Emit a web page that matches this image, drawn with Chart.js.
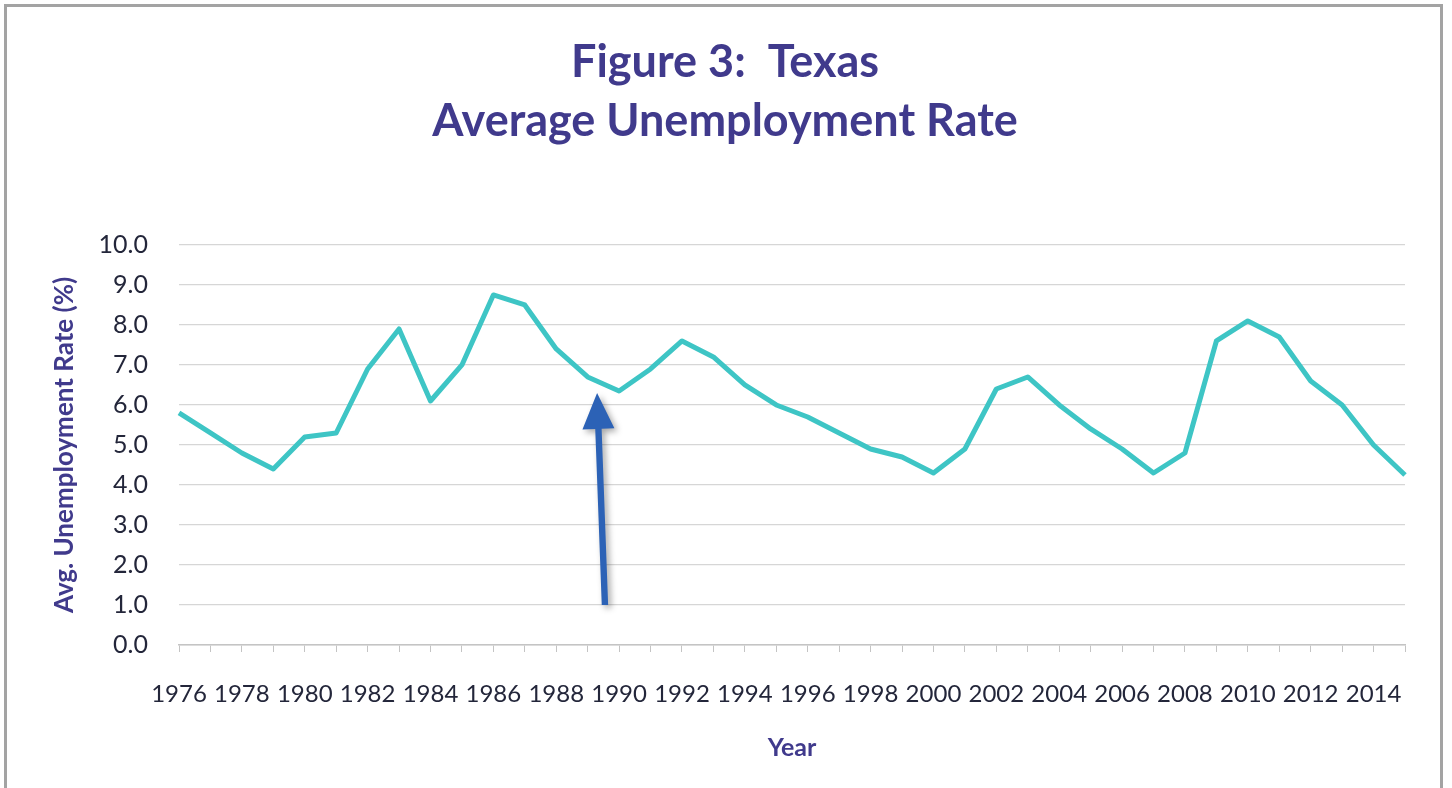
<!DOCTYPE html>
<html>
<head>
<meta charset="utf-8">
<title>Figure 3: Texas Average Unemployment Rate</title>
<script src="https://cdn.jsdelivr.net/npm/chart.js@4.4.1/dist/chart.umd.min.js"></script>
<style>
    html, body { margin: 0; padding: 0; background: #fff; overflow: hidden; }
    #wrap { position: relative; width: 1452px; height: 788px; }
    #frame { position: absolute; left: 4px; top: 4px; width: 1433px; height: 800px; border: 3px solid #a3a3a3; pointer-events: none; }
    canvas { position: absolute; left: 0; top: 0; }
</style>
</head>
<body>
<div id="wrap">
    <canvas id="chart" width="1452" height="788"></canvas>
    <div id="frame"></div>
</div>
<script>
"use strict";

const years = [1976, 1977, 1978, 1979, 1980, 1981, 1982, 1983, 1984, 1985,
               1986, 1987, 1988, 1989, 1990, 1991, 1992, 1993, 1994, 1995,
               1996, 1997, 1998, 1999, 2000, 2001, 2002, 2003, 2004, 2005,
               2006, 2007, 2008, 2009, 2010, 2011, 2012, 2013, 2014, 2015];
const rates = [5.8, 5.3, 4.8, 4.4, 5.2, 5.3, 6.9, 7.9, 6.1, 7.0,
               8.75, 8.5, 7.4, 6.7, 6.35, 6.9, 7.6, 7.2, 6.5, 6.0,
               5.7, 5.3, 4.9, 4.7, 4.3, 4.9, 6.4, 6.7, 6.0, 5.4,
               4.9, 4.3, 4.8, 7.6, 8.1, 7.7, 6.6, 6.0, 5.0, 4.25];
const yMin = 0;
const yMax = 10;
const yStep = 1;

// arrow annotation in data units (x = category index, y = rate)
const arrowStart = [13.55, 1.0];
const arrowTip = [13.3, 6.3];

const titleColor = "#403a8c";
const tickColor = "#23263a";

const arrowPlugin = {
    id: "arrow",
    afterDatasetsDraw(chart) {
        const ctx = chart.ctx;
        const xs = chart.scales.x, ys = chart.scales.y;
        const x0 = xs.getPixelForValue(arrowStart[0]), y0 = ys.getPixelForValue(arrowStart[1]);
        const x1 = xs.getPixelForValue(arrowTip[0]), y1 = ys.getPixelForValue(arrowTip[1]);
        const len = Math.hypot(x1 - x0, y1 - y0);
        const ux = (x1 - x0) / len, uy = (y1 - y0) / len;
        const px = -uy, py = ux;
        const headLen = 36, headHalf = 16, shaftHalf = 3.2;
        const bx = x1 - ux * headLen, by = y1 - uy * headLen;
        ctx.save();
        ctx.shadowColor = "rgba(0,0,0,0.35)";
        ctx.shadowBlur = 6;
        ctx.shadowOffsetX = 3;
        ctx.shadowOffsetY = 3;
        ctx.fillStyle = "#2c62b6";
        ctx.beginPath();
        ctx.moveTo(x0 + px * shaftHalf, y0 + py * shaftHalf);
        ctx.lineTo(bx + px * shaftHalf, by + py * shaftHalf);
        ctx.lineTo(bx + px * headHalf, by + py * headHalf);
        ctx.lineTo(x1, y1);
        ctx.lineTo(bx - px * headHalf, by - py * headHalf);
        ctx.lineTo(bx - px * shaftHalf, by - py * shaftHalf);
        ctx.lineTo(x0 - px * shaftHalf, y0 - py * shaftHalf);
        ctx.closePath();
        ctx.fill();
        ctx.restore();
    }
};

new Chart(document.getElementById("chart").getContext("2d"), {
    type: "line",
    data: {
        labels: years.map(String),
        datasets: [{
            data: rates,
            borderColor: "#3ec5c5",
            borderWidth: 5,
            borderJoinStyle: "round",
            tension: 0,
            pointRadius: 0,
            fill: false
        }]
    },
    options: {
        responsive: false,
        animation: false,
        devicePixelRatio: 1,
        layout: { padding: { left: 45, right: 47, top: 0, bottom: 0 } },
        plugins: {
            legend: { display: false },
            tooltip: { enabled: false },
            title: {
                display: true,
                text: ["Figure 3:  Texas", "Average Unemployment Rate"],
                color: titleColor,
                font: { family: "Lato", size: 45, weight: "bold", lineHeight: 1.333 },
                padding: { top: 32, bottom: 93 }
            }
        },
        scales: {
            x: {
                offset: false,
                afterFit: scale => { scale.height = 143; },
                grid: { drawOnChartArea: false, drawTicks: true, tickLength: 7, color: "#c4c4c4" },
                border: { color: "#c4c4c4", width: 1.5 },
                ticks: {
                    autoSkip: false,
                    maxRotation: 0,
                    minRotation: 0,
                    padding: 28,
                    color: tickColor,
                    font: { family: "Lato", size: 24 },
                    callback: (val, i) => i % 2 === 0 ? String(years[i]) : ""
                },
                title: {
                    display: true,
                    text: "Year",
                    color: titleColor,
                    font: { family: "Lato", size: 25, weight: "bold" },
                    padding: { top: 0, bottom: 25 }
                }
            },
            y: {
                min: yMin,
                max: yMax,
                afterFit: scale => { scale.width = 134; },
                grid: { drawTicks: false, color: "#d6d6d6", lineWidth: 1.2 },
                border: { display: false },
                ticks: {
                    stepSize: yStep,
                    padding: 31,
                    color: tickColor,
                    font: { family: "Lato", size: 25 },
                    callback: v => v.toFixed(1)
                },
                title: {
                    display: true,
                    text: "Avg. Unemployment Rate (%)",
                    color: titleColor,
                    font: { family: "Lato", size: 26, weight: "bold" },
                    padding: { top: 4, bottom: 4 }
                }
            }
        }
    },
    plugins: [arrowPlugin]
});
</script>
</body>
</html>
